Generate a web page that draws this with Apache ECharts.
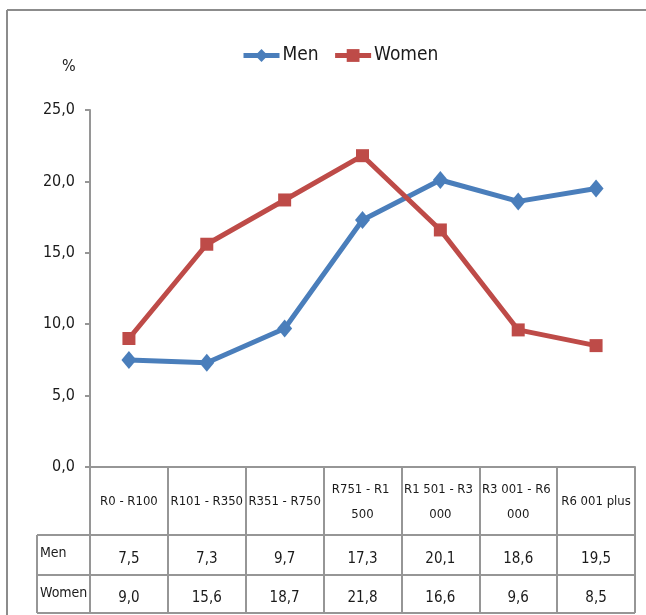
<!DOCTYPE html>
<html>
<head>
<meta charset="utf-8">
<script src="https://cdn.jsdelivr.net/npm/echarts@6/dist/echarts.min.js"></script>
<style>
html,body{margin:0;padding:0;background:#fff;}
#chart{width:646px;height:615px;}
</style>
</head>
<body>
<div id="chart"></div>
<script>
var categories = ['R0 - R100', 'R101 - R350', 'R351 - R750', 'R751 - R1 500', 'R1 501 - R3 000', 'R3 001 - R6 000', 'R6 001 plus'];
var seriesNames = ['Men', 'Women'];
var menValues = [7.5, 7.3, 9.7, 17.3, 20.1, 18.6, 19.5];
var womenValues = [9.0, 15.6, 18.7, 21.8, 16.6, 9.6, 8.5];
var yTicks = [0, 5, 10, 15, 20, 25];

var FONT = '"DejaVu Sans Condensed", "Liberation Sans Narrow", "Liberation Sans", sans-serif';
var GRAY = '#969696';
var TEXT = '#1a1a1a';
var GL = 90, GR = 11, GT = 110, GB = 148;
var W = 646, H = 615;
var axisY = H - GB;          // 467
var headerBottom = 535, rowDiv = 575, tableBottom = 613, tableLeft = 37;
var tableRight = W - GR;

function fmt(v){ return v.toFixed(1).replace('.', ','); }

var chart = echarts.init(document.getElementById('chart'), null, {renderer:'canvas'});

var option = {
  backgroundColor: '#fff',
  animation: false,
  textStyle: { fontFamily: FONT },
  legend: {
    left: 236, top: 41,
    itemWidth: 36, itemHeight: 16, itemGap: 14,
    lineStyle: { width: 5 },
    textStyle: { fontFamily: FONT, fontSize: 19, color: TEXT, padding:[0,0,0,-2] },
    data: seriesNames
  },
  grid: { left: GL, right: GR, top: GT, bottom: GB },
  xAxis: [
    {
      type: 'category', data: categories, position: 'bottom',
      axisLine: { show: true, lineStyle: { color: GRAY, width: 2 } },
      axisTick: { show: true, interval: 0, length: tableBottom - axisY, lineStyle: { color: GRAY, width: 2 } },
      axisLabel: {
        interval: 0, margin: 35, verticalAlign: 'middle',
        fontFamily: FONT, fontSize: 13, color: TEXT,
        width: 74, overflow: 'break', lineHeight: 25
      },
      splitLine: { show: false }
    },
    {
      type: 'category', data: categories, position: 'bottom',
      axisLine: { show: false }, axisTick: { show: false },
      axisLabel: {
        interval: 0, margin: 92, verticalAlign: 'middle',
        fontFamily: FONT, fontSize: 15, color: TEXT,
        formatter: function(v, i){ return fmt(menValues[i]); }
      }
    },
    {
      type: 'category', data: categories, position: 'bottom',
      axisLine: { show: false }, axisTick: { show: false },
      axisLabel: {
        interval: 0, margin: 131, verticalAlign: 'middle',
        fontFamily: FONT, fontSize: 15, color: TEXT,
        formatter: function(v, i){ return fmt(womenValues[i]); }
      }
    }
  ],
  yAxis: {
    type: 'value', min: yTicks[0], max: yTicks[yTicks.length-1], interval: yTicks[1]-yTicks[0],
    axisLine: { show: true, lineStyle: { color: GRAY, width: 2 } },
    axisTick: { show: true, length: 5, lineStyle: { color: GRAY, width: 2 } },
    splitLine: { show: false },
    axisLabel: { margin: 15, fontFamily: FONT, fontSize: 16, color: TEXT, formatter: function(v){ return fmt(v); } }
  },
  title: { text: '%', left: 57, top: 54, textStyle: { fontFamily: FONT, fontSize: 16, fontWeight: 'normal', color: TEXT } },
  series: [
    {
      name: seriesNames[0], type: 'line', data: menValues,
      symbol: 'diamond', symbolSize: [15, 18],
      lineStyle: { color: '#4a7ebb', width: 5 },
      itemStyle: { color: '#4a7ebb' }
    },
    {
      name: seriesNames[1], type: 'line', data: womenValues,
      symbol: 'rect', symbolSize: 13,
      lineStyle: { color: '#be4b48', width: 5 },
      itemStyle: { color: '#be4b48' }
    }
  ],
  graphic: [
    { type: 'line', shape: { x1: 7, y1: 10, x2: W, y2: 10 }, style: { stroke: '#8c8c8c', lineWidth: 2 } },
    { type: 'line', shape: { x1: 7, y1: 10, x2: 7, y2: H }, style: { stroke: '#8c8c8c', lineWidth: 2 } },
    { type: 'line', shape: { x1: tableLeft, y1: headerBottom, x2: tableRight, y2: headerBottom }, style: { stroke: GRAY, lineWidth: 2 } },
    { type: 'line', shape: { x1: tableLeft, y1: rowDiv, x2: tableRight, y2: rowDiv }, style: { stroke: GRAY, lineWidth: 2 } },
    { type: 'line', shape: { x1: tableLeft, y1: tableBottom, x2: tableRight, y2: tableBottom }, style: { stroke: GRAY, lineWidth: 2 } },
    { type: 'line', shape: { x1: tableLeft, y1: headerBottom, x2: tableLeft, y2: tableBottom }, style: { stroke: GRAY, lineWidth: 2 } },
    { type: 'text', left: tableLeft + 3, top: 546,
      style: { text: seriesNames[0], font: '14px ' + FONT, fill: TEXT } },
    { type: 'text', left: tableLeft + 3, top: 586,
      style: { text: seriesNames[1], font: '14px ' + FONT, fill: TEXT } }
  ]
};
chart.setOption(option);
</script>
</body>
</html>
